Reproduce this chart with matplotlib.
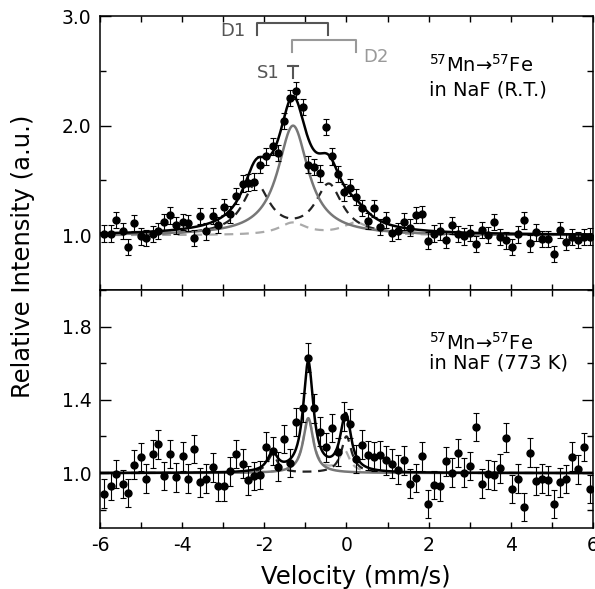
import matplotlib
matplotlib.use("Agg")
import matplotlib.pyplot as plt
import numpy as np
from matplotlib.ticker import MultipleLocator

plt.rcParams["font.family"] = "DejaVu Sans"
plt.rcParams["axes.unicode_minus"] = False

# velocity channels (mm/s), shared by both spectra
velocity = [
    -5.89, -5.74, -5.60, -5.45, -5.31, -5.16, -5.01, -4.87, -4.72, -4.58,
    -4.43, -4.29, -4.14, -3.99, -3.85, -3.70, -3.56, -3.41, -3.26, -3.12,
    -2.97, -2.83, -2.68, -2.53, -2.39, -2.24, -2.10, -1.95, -1.80, -1.66,
    -1.51, -1.37, -1.22, -1.07, -0.93, -0.78, -0.64, -0.49, -0.35, -0.20,
    -0.05, 0.09, 0.24, 0.39, 0.53, 0.68, 0.82, 0.97, 1.11, 1.26,
    1.41, 1.55, 1.70, 1.84, 1.99, 2.14, 2.28, 2.43, 2.57, 2.72,
    2.87, 3.01, 3.16, 3.30, 3.45, 3.60, 3.74, 3.89, 4.03, 4.18,
    4.33, 4.47, 4.62, 4.76, 4.91, 5.05, 5.20, 5.35, 5.49, 5.64,
    5.78, 5.93,
]

# room temperature spectrum
rt_intensity = [
    1.015, 1.015, 1.14, 1.04, 0.89, 1.113, 0.99, 0.975, 1.01, 1.04,
    1.12, 1.18, 1.09, 1.12, 1.113, 0.973, 1.175, 1.035, 1.175, 1.092,
    1.26, 1.19, 1.36, 1.47, 1.48, 1.49, 1.645, 1.72, 1.81, 1.75,
    2.04, 2.25, 2.32, 2.17, 1.645, 1.625, 1.565, 1.985, 1.72, 1.56,
    1.39, 1.435, 1.35, 1.25, 1.13, 1.245, 1.075, 1.14, 1.02, 1.04,
    1.125, 1.07, 1.185, 1.19, 0.95, 1.015, 1.035, 0.955, 1.09, 1.013,
    0.99, 1.02, 0.92, 1.048, 1.0, 1.12, 0.982, 0.952, 0.89, 1.008,
    1.135, 0.925, 1.025, 0.965, 0.965, 0.828, 1.05, 0.938, 0.985, 0.957,
    0.985, 0.988,
]
rt_error = 0.075

# 773 K spectrum
ht_intensity = [
    0.887, 0.93, 0.996, 0.94, 0.892, 1.046, 1.088, 0.969, 1.103, 1.157,
    0.985, 1.103, 0.977, 1.092, 0.969, 1.131, 0.949, 0.969, 1.031, 0.928,
    0.927, 1.009, 1.103, 1.051, 0.96, 0.983, 0.989, 1.145, 1.12, 1.035,
    1.187, 1.056, 1.278, 1.358, 1.631, 1.353, 1.226, 1.14, 1.245, 1.116,
    1.308, 1.27, 1.078, 1.155, 1.096, 1.09, 1.096, 1.069, 1.051, 1.019,
    1.069, 0.942, 0.973, 1.092, 0.831, 0.934, 0.928, 1.064, 1.003, 1.11,
    1.003, 1.039, 1.251, 0.942, 0.993, 0.987, 1.025, 1.193, 0.914, 0.969,
    0.815, 1.111, 0.957, 0.969, 0.96, 0.83, 0.949, 0.967, 1.09, 1.021,
    1.143, 0.914,
]
ht_error = 0.078

# fitted components: (centre mm/s, amplitude, half width)
rt_s1 = [(-1.30, 1.00, 0.45)]
rt_d1 = [(-2.20, 0.45, 0.40), (-0.43, 0.45, 0.40)]
rt_d2 = [(-1.31, 0.11, 0.40), (0.23, 0.11, 0.40)]

ht_s1 = [(-0.93, 0.30, 0.15)]
ht_d1 = [(-1.80, 0.10, 0.15), (0.00, 0.20, 0.15)]
ht_d2 = [(-0.93, 0.30, 0.15), (-0.05, 0.12, 0.15)]


def lorentz_sum(v, lines):
    out = np.ones_like(v)
    for centre, amp, gamma in lines:
        out += amp / (1.0 + ((v - centre) / gamma) ** 2)
    return out


def draw_panel(ax, data, err, s1, d1, d2):
    v = np.linspace(-6, 6, 1200)
    ax.plot(v, lorentz_sum(v, d2), color="#aaaaaa", lw=1.6, ls=(0, (4, 3)))
    ax.plot(v, lorentz_sum(v, d1), color="#222222", lw=1.6, ls=(0, (4, 3)))
    ax.plot(v, lorentz_sum(v, s1), color="#777777", lw=1.8)
    # total curve uses all components
    ax.plot(v, lorentz_sum(v, s1 + d1 + d2), color="black", lw=1.8)
    ax.errorbar(velocity, data, yerr=err, fmt="o", color="black", ms=5,
                elinewidth=0.8, capsize=2.2, capthick=0.8, zorder=5)
    ax.set_xlim(-6, 6)
    ax.xaxis.set_major_locator(MultipleLocator(2))
    ax.xaxis.set_minor_locator(MultipleLocator(1))
    ax.tick_params(axis="both", which="both", direction="in", top=True,
                   right=True, labelsize=13.5, pad=6)
    ax.tick_params(axis="y", which="major", length=8, width=1)
    ax.tick_params(axis="y", which="minor", length=4.5, width=1)
    ax.tick_params(axis="x", which="both", length=4.5, width=1)
    for spine in ax.spines.values():
        spine.set_linewidth(1.1)


fig = plt.figure(figsize=(5.95, 5.89), dpi=100)
ax_top = fig.add_axes([0.168, 0.5076, 0.8286, 0.4652])
ax_bot = fig.add_axes([0.168, 0.1036, 0.8286, 0.4040])

draw_panel(ax_top, rt_intensity, rt_error, rt_s1, rt_d1, rt_d2)
ax_top.set_ylim(0.5, 3.0)
ax_top.yaxis.set_major_locator(MultipleLocator(1.0))
ax_top.yaxis.set_minor_locator(MultipleLocator(0.5))
ax_top.yaxis.set_major_formatter(plt.FormatStrFormatter("%.1f"))
ax_top.tick_params(axis="x", labelbottom=False)

draw_panel(ax_bot, ht_intensity, ht_error, ht_s1, ht_d1, ht_d2)
ax_bot.set_ylim(0.7, 2.0)
ax_bot.yaxis.set_minor_locator(MultipleLocator(0.2))
ax_bot.set_yticks([1.0, 1.4, 1.8])
ax_bot.yaxis.set_major_formatter(plt.FormatStrFormatter("%.1f"))

# site markers in the upper panel
d1_col = "#555555"
d2_col = "#999999"
ax_top.plot([-2.17, -2.17, -0.44, -0.44], [2.83, 2.935, 2.935, 2.83], color=d1_col, lw=1.5)
ax_top.plot([-1.32, -1.32, 0.24, 0.24], [2.67, 2.78, 2.78, 2.67], color=d2_col, lw=1.5)
ax_top.plot([-1.42, -1.18], [2.54, 2.54], color="#555555", lw=1.5)
ax_top.plot([-1.30, -1.30], [2.54, 2.43], color="#555555", lw=1.5)
ax_top.text(-2.76, 2.86, "D1", color=d1_col, fontsize=13, ha="center", va="center")
ax_top.text(0.72, 2.63, "D2", color=d2_col, fontsize=13, ha="center", va="center")
ax_top.text(-1.91, 2.48, "S1", color="#555555", fontsize=13, ha="center", va="center")

ax_top.text(0.668, 0.821, "$^{57}$Mn→$^{57}$Fe", transform=ax_top.transAxes,
            fontsize=14, ha="left", va="center")
ax_top.text(0.668, 0.73, "in NaF (R.T.)", transform=ax_top.transAxes,
            fontsize=14, ha="left", va="center")
ax_bot.text(0.668, 0.777, "$^{57}$Mn→$^{57}$Fe", transform=ax_bot.transAxes,
            fontsize=14, ha="left", va="center")
ax_bot.text(0.668, 0.695, "in NaF (773 K)", transform=ax_bot.transAxes,
            fontsize=14, ha="left", va="center")

fig.text(0.039, 0.564, "Relative Intensity (a.u.)", rotation=90,
         ha="center", va="center", fontsize=17.5)
fig.text(0.598, 0.02, "Velocity (mm/s)", ha="center", va="center", fontsize=17.5)

fig.savefig("out.png", dpi=100, facecolor="white")
plt.close(fig)
